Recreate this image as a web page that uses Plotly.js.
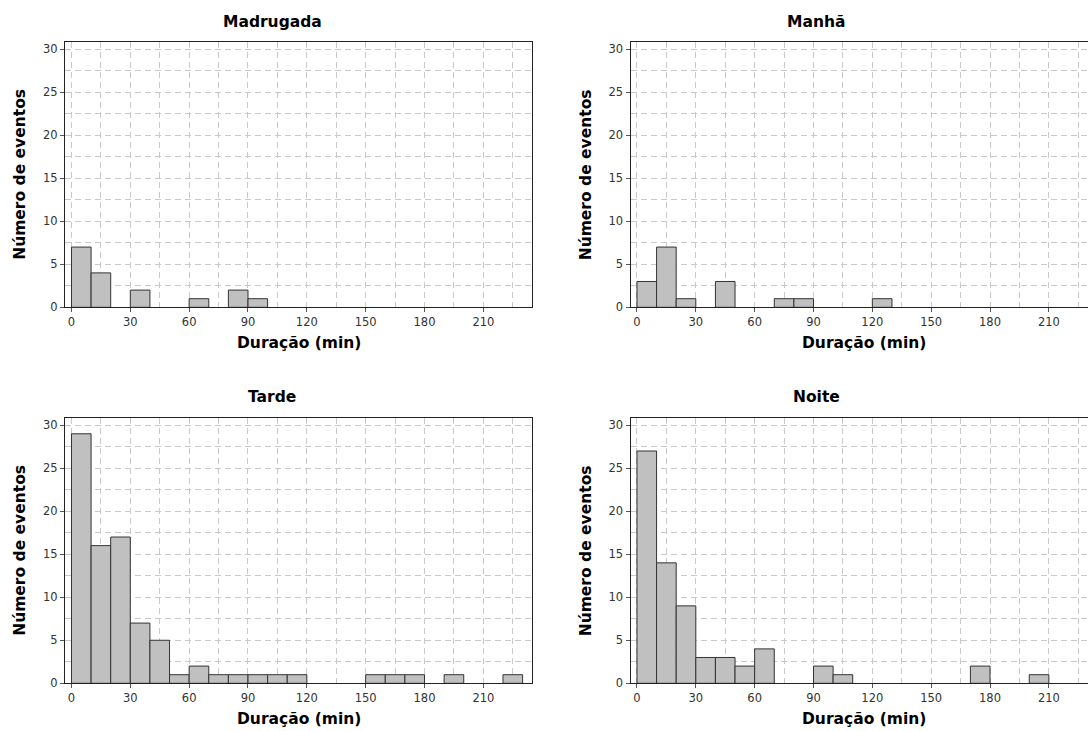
<!DOCTYPE html>
<html>
<head>
<meta charset="utf-8">
<script src="https://cdn.plot.ly/plotly-3.0.1.min.js"></script>
<style>
  html, body { margin: 0; padding: 0; overflow: hidden; background: #ffffff; }
  #chart { width: 1100px; height: 731px; }
</style>
</head>
<body>
<div id="chart"></div>
<script>
// Event durations grouped in 10-minute classes (class start, in minutes)
const binWidth = 10;
const binStarts = [0, 10, 20, 30, 40, 50, 60, 70, 80, 90, 100, 110,
                   120, 130, 140, 150, 160, 170, 180, 190, 200, 210, 220];

// Number of events per class, one array per period of the day
const madrugada = [7, 4, 0, 2, 0, 0, 1, 0, 2, 1, 0, 0, 0, 0, 0, 0, 0, 0, 0, 0, 0, 0, 0];
const manha     = [3, 7, 1, 0, 3, 0, 0, 1, 1, 0, 0, 0, 1, 0, 0, 0, 0, 0, 0, 0, 0, 0, 0];
const tarde     = [29, 16, 17, 7, 5, 1, 2, 1, 1, 1, 1, 1, 0, 0, 0, 1, 1, 1, 0, 1, 0, 0, 1];
const noite     = [27, 14, 9, 3, 3, 2, 4, 0, 0, 2, 1, 0, 0, 0, 0, 0, 0, 2, 0, 0, 1, 0, 0];

const periodNames = ['Madrugada', 'Manhã', 'Tarde', 'Noite'];
const periodCounts = [madrugada, manha, tarde, noite];

const xTitle = 'Duração (min)';
const yTitle = 'Número de eventos';

// Page geometry (pixels)
const W = 1100, H = 731;
const px = v => v / W;
const py = v => 1 - v / H;

const colsPx = [[65, 532], [630.5, 1097.5]];
const rowsPx = [[42.3, 307.3], [418.3, 683.3]];
const titleY = [22, 397];
const titleX = [272, 816];

const gridStyle = { gridcolor: '#c9c9c9', griddash: '6px,4px', gridwidth: 1 };
const tickFont = { family: 'DejaVu Sans', size: 11.5, color: '#333333' };
const boldFont = { family: 'DejaVu Sans', size: 15.5, color: '#000000', weight: 'bold' };

const traces = [];
const layout = {
  width: W, height: H,
  margin: { l: 0, r: 0, t: 0, b: 0 },
  paper_bgcolor: '#ffffff',
  plot_bgcolor: '#ffffff',
  showlegend: false,
  bargap: 0,
  annotations: []
};

periodCounts.forEach((counts, i) => {
  const row = Math.floor(i / 2), col = i % 2;
  const n = i + 1;
  const xa = n === 1 ? 'x' : 'x' + n;
  const ya = n === 1 ? 'y' : 'y' + n;
  const xKey = n === 1 ? 'xaxis' : 'xaxis' + n;
  const yKey = n === 1 ? 'yaxis' : 'yaxis' + n;

  const xs = [], ys = [];
  counts.forEach((c, k) => {
    if (c > 0) { xs.push(binStarts[k] + binWidth / 2); ys.push(c); }
  });

  traces.push({
    type: 'bar',
    x: xs, y: ys,
    width: binWidth,
    xaxis: xa, yaxis: ya,
    marker: { color: '#c0c0c0', line: { color: '#333333', width: 1 } },
    hoverinfo: 'skip'
  });

  layout[xKey] = Object.assign({
    domain: [px(colsPx[col][0]), px(colsPx[col][1])],
    anchor: ya,
    range: [-3.3, 234.8],
    tick0: 0, dtick: 30,
    ticks: 'outside', ticklen: 4, tickcolor: '#555555',
    tickfont: tickFont,
    showline: true, linecolor: '#222222', linewidth: 1, mirror: true,
    showgrid: true, zeroline: false,
    fixedrange: true,
    minor: Object.assign({ dtick: 15, showgrid: true, ticks: '' }, gridStyle)
  }, gridStyle);

  layout[yKey] = Object.assign({
    domain: [py(rowsPx[row][1]), py(rowsPx[row][0])],
    anchor: xa,
    range: [0, 30.8],
    tick0: 0, dtick: 5,
    ticks: 'outside', ticklen: 4, tickcolor: '#555555',
    tickfont: tickFont,
    showline: true, linecolor: '#222222', linewidth: 1, mirror: true,
    showgrid: true, zeroline: false,
    fixedrange: true,
    minor: Object.assign({ dtick: 2.5, showgrid: true, ticks: '' }, gridStyle)
  }, gridStyle);

  // Panel title
  layout.annotations.push({
    text: periodNames[i],
    xref: 'paper', yref: 'paper',
    x: px(titleX[col]), y: py(titleY[row]),
    xanchor: 'center', yanchor: 'middle',
    showarrow: false,
    font: boldFont
  });

  // Axis titles
  layout.annotations.push({
    text: xTitle,
    xref: xa + ' domain', yref: ya + ' domain',
    x: 0.5, y: 0, yshift: -36,
    xanchor: 'center', yanchor: 'middle',
    showarrow: false,
    font: boldFont
  });
  layout.annotations.push({
    text: yTitle,
    xref: xa + ' domain', yref: ya + ' domain',
    x: 0, xshift: -45, y: 0.5,
    xanchor: 'center', yanchor: 'middle',
    textangle: -90,
    showarrow: false,
    font: boldFont
  });
});

Plotly.newPlot('chart', traces, layout, { displayModeBar: false, staticPlot: true });
</script>
</body>
</html>
